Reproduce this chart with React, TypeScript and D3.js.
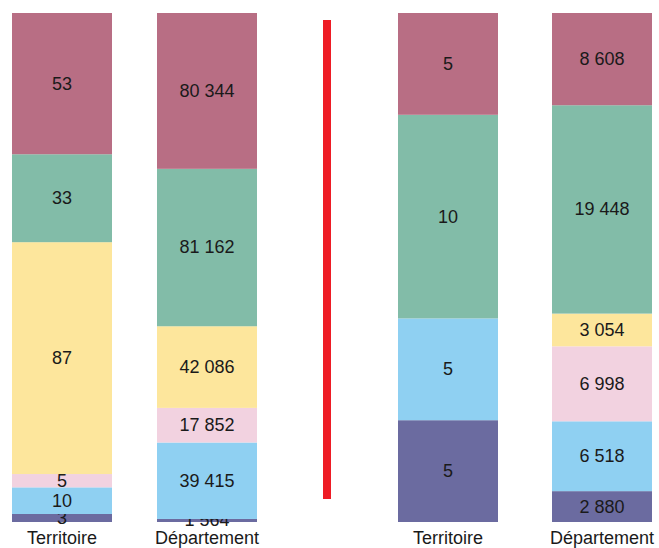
import React, { useRef, useEffect } from 'react';
import * as d3 from 'd3';

// bottom -> top
const layers = ['l1', 'l2', 'l3', 'l4', 'l5', 'l6'];
const colors = ['#6b6ba0', '#8fd0f2', '#f2d2e0', '#fde69c', '#82bca8', '#b86e84'];

const categories = ['Territoire', 'Département', 'Territoire', 'Département'];
const barLeft = [12, 157, 398, 552];

const bar1 = [3, 10, 5, 87, 33, 53];
const bar2 = [1564, 39415, 17852, 42086, 81162, 80344];
const bar3 = [5, 5, 0, 0, 10, 5];
const bar4 = [2880, 6518, 6998, 3054, 19448, 8608];
const bars = [bar1, bar2, bar3, bar4];

const fmt = (v: number) => d3.format(',')(v).replace(/,/g, ' ');

const App: React.FC = () => {
  const svgRef = useRef<SVGSVGElement>(null);

  useEffect(() => {
    if (!svgRef.current) return;
    const svg = d3.select(svgRef.current);
    svg.selectAll('*').remove();

    const y = d3.scaleLinear().domain([0, 1]).range([522, 13]);
    const barW = 100;

    bars.forEach((vals, bi) => {
      const total = d3.sum(vals);
      const g = svg.append('g');
      let acc = 0;
      vals.forEach((v, li) => {
        if (v === 0) return;
        const y0 = y(acc / total);
        const y1 = y((acc + v) / total);
        acc += v;
        g.append('rect')
          .attr('class', layers[li])
          .attr('x', barLeft[bi])
          .attr('y', y1)
          .attr('width', barW)
          .attr('height', y0 - y1)
          .attr('fill', colors[li]);
        g.append('text')
          .attr('x', barLeft[bi] + barW / 2)
          .attr('y', (y0 + y1) / 2)
          .attr('dy', '0.33em')
          .attr('text-anchor', 'middle')
          .attr('font-size', '18px')
          .attr('fill', '#1a1a1a')
          .text(fmt(v));
      });
      g.append('text')
        .attr('x', barLeft[bi] + barW / 2)
        .attr('y', 544)
        .attr('text-anchor', 'middle')
        .attr('font-size', '18px')
        .attr('fill', '#1a1a1a')
        .text(categories[bi]);
    });

    // separator
    svg.append('rect')
      .attr('x', 323)
      .attr('y', 20)
      .attr('width', 8)
      .attr('height', 479)
      .attr('fill', '#ee1c25');
  }, []);

  return (
    <svg
      ref={svgRef}
      width={659}
      height={548}
      style={{ position: 'absolute', left: 0, top: 0, fontFamily: 'Liberation Sans, Arial, sans-serif', background: '#fff' }}
    />
  );
};

export default App;
